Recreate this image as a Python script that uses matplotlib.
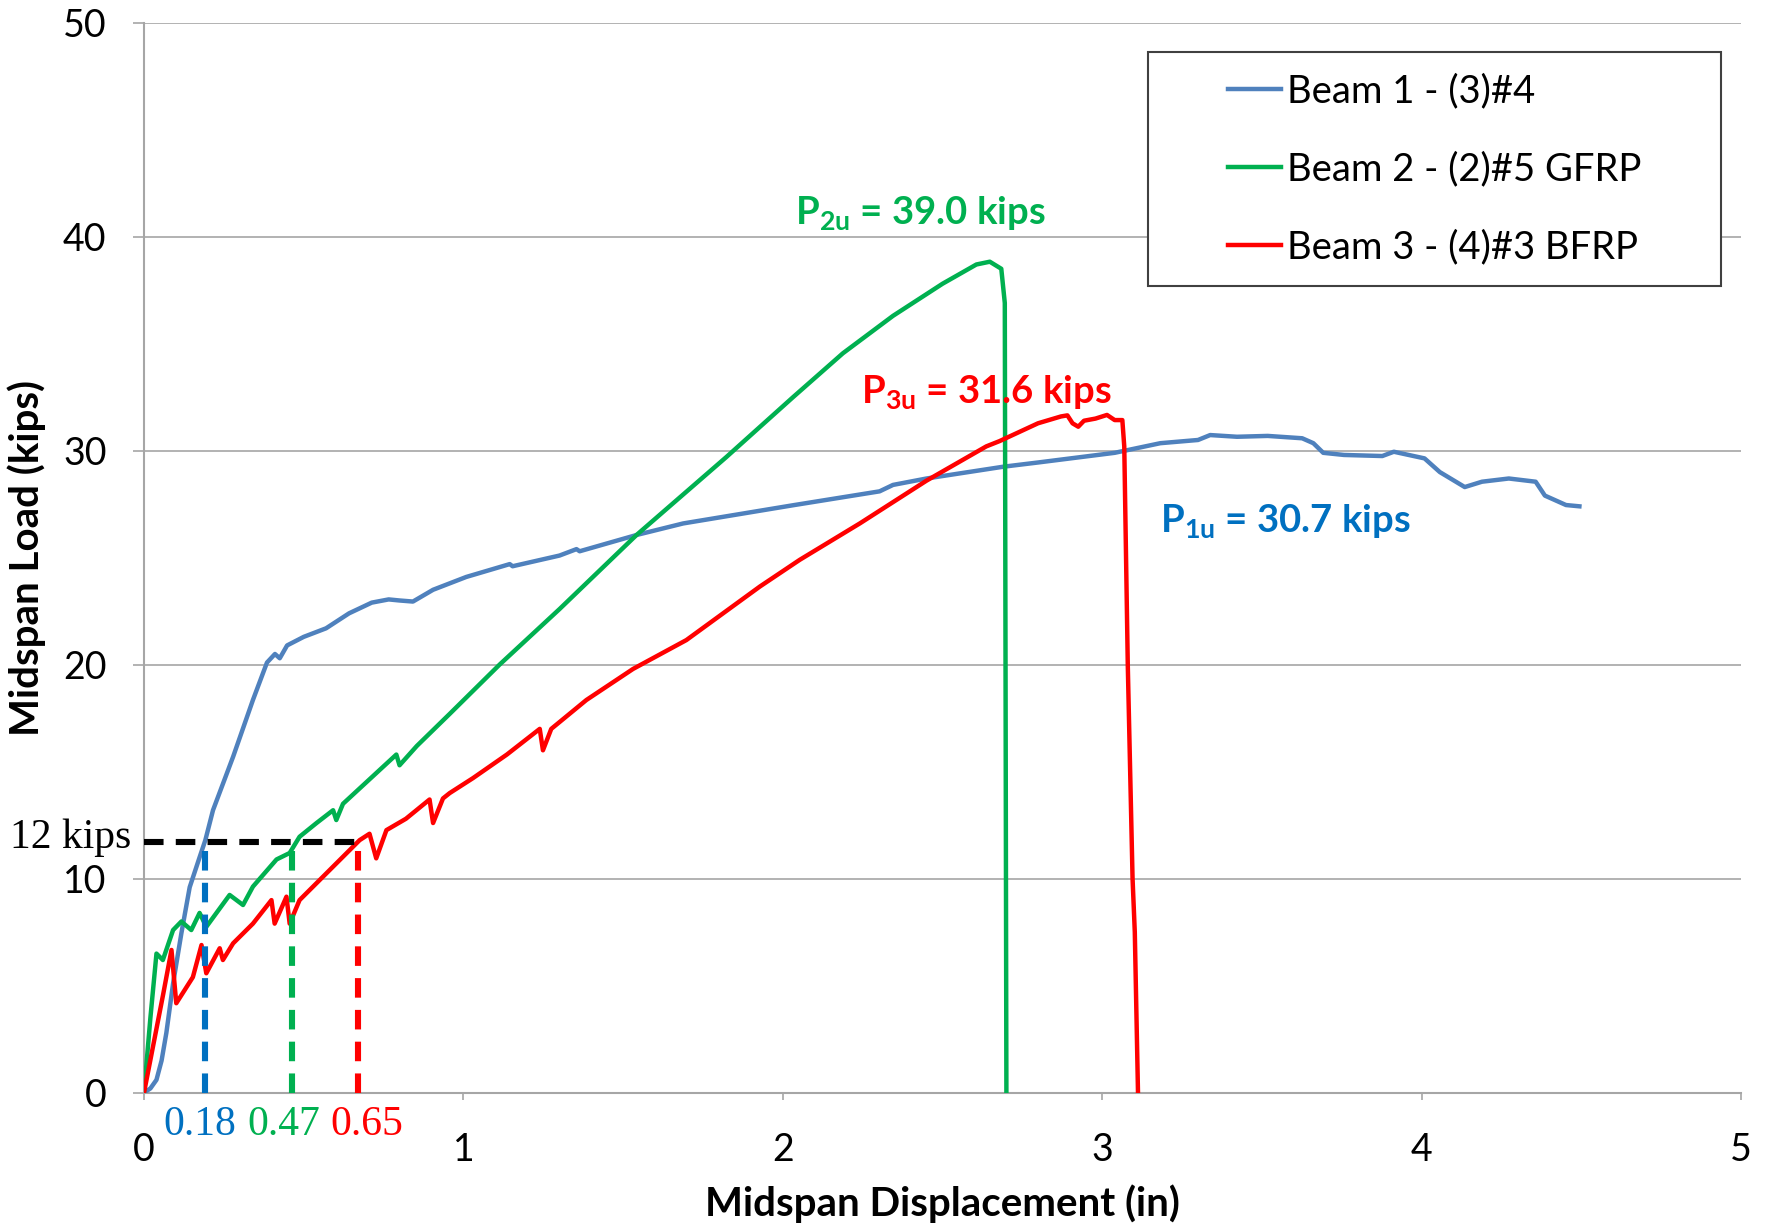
import matplotlib
matplotlib.use("Agg")
import matplotlib.pyplot as plt
from matplotlib.patches import Rectangle

# ---------------- data ----------------
beam1_x = [0, 0.02, 0.039, 0.055, 0.07, 0.091, 0.117, 0.143, 0.174, 0.192, 0.216, 0.279, 0.341, 0.385,
           0.41, 0.425, 0.448, 0.50, 0.57, 0.642, 0.713, 0.766, 0.80, 0.842, 0.905, 1.009, 1.145, 1.154,
           1.301, 1.354, 1.364, 1.542, 1.688, 2.032, 2.303, 2.345, 2.45, 2.69, 2.80, 3.039, 3.182,
           3.30, 3.338, 3.422, 3.518, 3.626, 3.661, 3.692, 3.757, 3.877, 3.913, 4.009, 4.057, 4.135,
           4.189, 4.273, 4.357, 4.386, 4.452, 4.494]
beam1_y = [0, 0.2, 0.6, 1.5, 2.8, 5.1, 7.45, 9.6, 11.0, 11.8, 13.2, 15.7, 18.35, 20.1,
           20.5, 20.3, 20.9, 21.3, 21.7, 22.4, 22.9, 23.05, 23.0, 22.95, 23.5, 24.1, 24.7, 24.6,
           25.1, 25.4, 25.3, 26.06, 26.6, 27.45, 28.1, 28.4, 28.7, 29.25, 29.45, 29.9, 30.35,
           30.5, 30.73, 30.65, 30.69, 30.58, 30.35, 29.9, 29.8, 29.75, 29.95, 29.64, 29.0, 28.3,
           28.55, 28.7, 28.55, 27.9, 27.46, 27.4]

beam2_x = [0, 0.02, 0.039, 0.059, 0.091, 0.117, 0.148, 0.174, 0.195, 0.268, 0.31, 0.341, 0.415,
           0.456, 0.487, 0.54, 0.592, 0.602, 0.623, 0.79, 0.80, 0.854, 0.957, 1.113, 1.301, 1.542,
           1.823, 2.032, 2.188, 2.345, 2.50, 2.606, 2.648, 2.684, 2.695, 2.70]
beam2_y = [0, 3.5, 6.5, 6.2, 7.6, 8.0, 7.6, 8.4, 7.75, 9.24, 8.77, 9.63, 10.9,
           11.2, 11.96, 12.6, 13.2, 12.74, 13.5, 15.8, 15.3, 16.2, 17.7, 20.0, 22.6, 26.06,
           29.7, 32.5, 34.55, 36.3, 37.8, 38.7, 38.83, 38.5, 36.9, 0]

beam3_x = [0, 0.03, 0.06, 0.086, 0.101, 0.153, 0.18, 0.195, 0.237, 0.247, 0.279, 0.341, 0.399, 0.409,
           0.446, 0.456, 0.487, 0.581, 0.675, 0.706, 0.727, 0.759, 0.82, 0.894, 0.905, 0.936, 0.957,
           1.03, 1.136, 1.239, 1.249, 1.275, 1.385, 1.531, 1.698, 1.928, 2.053, 2.241, 2.45, 2.637,
           2.679, 2.799, 2.871, 2.891, 2.907, 2.925, 2.943, 2.979, 3.015, 3.039, 3.063, 3.069, 3.08,
           3.095, 3.102, 3.112]
beam3_y = [0, 2.3, 4.6, 6.67, 4.18, 5.4, 6.9, 5.58, 6.75, 6.2, 6.98, 7.9, 9.0, 7.9,
           9.16, 7.9, 9.0, 10.4, 11.8, 12.1, 10.95, 12.27, 12.8, 13.7, 12.6, 13.75, 14.0,
           14.7, 15.8, 17.0, 16.0, 17.0, 18.35, 19.8, 21.15, 23.65, 24.9, 26.6, 28.6, 30.2,
           30.45, 31.28, 31.6, 31.65, 31.28, 31.12, 31.4, 31.5, 31.67, 31.43, 31.43, 30.2, 20.0,
           10.0, 7.5, 0]

series_labels = ["Beam 1 - (3)#4", "Beam 2 - (2)#5 GFRP", "Beam 3 - (4)#3 BFRP"]

ref_load = 11.7            # level of the "12 kips" dashed line as drawn
ref_disp = [0.19, 0.462, 0.67]
ref_disp_labels = ["0.18", "0.47", "0.65"]

peak_labels = [r"$\mathregular{P_{2u}}$ = 39.0 kips",
               r"$\mathregular{P_{3u}}$ = 31.6 kips",
               r"$\mathregular{P_{1u}}$ = 30.7 kips"]
peak_label_xy = [(2.43, 41.1), (2.636, 32.75), (3.575, 26.7)]

x_ticks = [0, 1, 2, 3, 4, 5]
y_ticks = [0, 10, 20, 30, 40, 50]

# ---------------- style ----------------
C_BLUE = "#4F81BD"
C_GREEN = "#00B050"
C_RED = "#FF0000"
C_BLUE_TXT = "#0070C0"
GRID = "#A6A6A6"

SANS = ["Lato", "DejaVu Sans"]
SERIF = ["Liberation Serif", "DejaVu Serif"]

fig = plt.figure(figsize=(17.67, 12.25), dpi=100)
ax = fig.add_axes([0.0815, 0.108, 0.9038, 0.8735])

ax.set_xlim(0, 5)
ax.set_ylim(0, 50)
ax.set_xticks(x_ticks)
ax.set_yticks(y_ticks)
ax.set_xticklabels([str(v) for v in x_ticks], fontfamily=SANS, fontsize=27)
ax.set_yticklabels([str(v) for v in y_ticks], fontfamily=SANS, fontsize=27)
ax.tick_params(axis="y", length=8, width=1.2, color=GRID, pad=19)
ax.tick_params(axis="x", length=5, width=1.2, color=GRID, pad=23)

ax.grid(axis="y", color=GRID, linewidth=1.2)
ax.set_axisbelow(True)
for s in ["top", "right"]:
    ax.spines[s].set_visible(False)
for s in ["left", "bottom"]:
    ax.spines[s].set_color(GRID)
    ax.spines[s].set_linewidth(1.5)

lw = 3.2
l1, = ax.plot(beam1_x, beam1_y, color=C_BLUE, lw=lw, label=series_labels[0], zorder=3)
l2, = ax.plot(beam2_x, beam2_y, color=C_GREEN, lw=lw, label=series_labels[1], zorder=3)
l3, = ax.plot(beam3_x, beam3_y, color=C_RED, lw=lw, label=series_labels[2], zorder=3)

# reference dashed lines
dash = (0, (3.2, 2.0))
ax.plot([0, ref_disp[2]], [ref_load, ref_load], color="black", lw=4.4, linestyle=dash, zorder=4)
for xv, col in zip(ref_disp, [C_BLUE_TXT, C_GREEN, C_RED]):
    ax.plot([xv, xv], [0, ref_load], color=col, lw=4.4, linestyle=dash, zorder=4)

ax.text(-0.04, ref_load + 0.2, "12 kips", fontfamily=SERIF, fontsize=30, ha="right", va="center",
        clip_on=False)
for xv, lab, col in zip([0.176, 0.437, 0.698], ref_disp_labels, [C_BLUE_TXT, C_GREEN, C_RED]):
    ax.text(xv, -1.5, lab, fontfamily=SERIF, fontsize=30, color=col, ha="center", va="center",
            clip_on=False)

for lab, (xv, yv), col in zip(peak_labels, peak_label_xy, [C_GREEN, C_RED, C_BLUE_TXT]):
    ax.text(xv, yv, lab, fontfamily=SANS, fontweight="bold", fontsize=27.5, color=col,
            ha="center", va="center", zorder=5)

ax.set_xlabel("Midspan Displacement (in)", fontfamily=SANS, fontweight="bold", fontsize=29,
              labelpad=12)
ax.set_ylabel("Midspan Load (kips)", fontfamily=SANS, fontweight="bold", fontsize=29, labelpad=12)

# legend box
fig.patches.append(Rectangle((1148 / 1767, 1 - 286 / 1225), (1721 - 1148) / 1767, (286 - 52) / 1225,
                             transform=fig.transFigure, facecolor="white", edgecolor="#404040",
                             linewidth=1.5, zorder=10))
leg = fig.legend(handles=[l1, l2, l3], loc="center",
                 bbox_to_anchor=(1434.5 / 1767, 1 - 169 / 1225),
                 frameon=False, prop={"family": SANS, "size": 27.5},
                 handlelength=1.4, handletextpad=0.15, labelspacing=1.1)
leg.set_zorder(11)

fig.savefig("out.png", dpi=100)
